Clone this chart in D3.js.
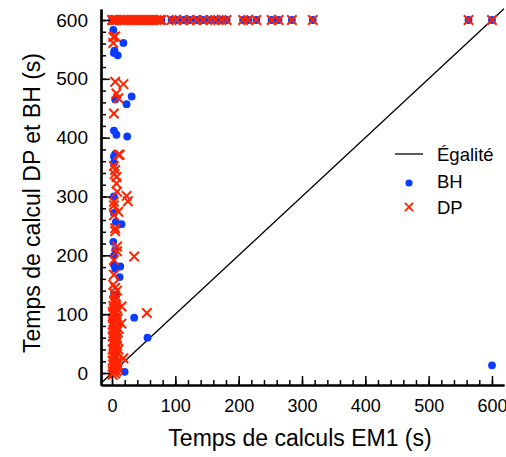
<!DOCTYPE html>
<html>
<head>
<meta charset="utf-8">
<script src="https://cdn.jsdelivr.net/npm/d3@7/dist/d3.min.js"></script>
<style>
  body { margin: 0; background: #fff; }
  text { font-family: "Liberation Sans", Arial, Helvetica, sans-serif; fill: #000; }
</style>
</head>
<body>
<div id="chart"></div>
<script>
// Temps de calcul : EM1 (x) contre DP et BH (y), en secondes
const majorTicks = [0, 100, 200, 300, 400, 500, 600];
const minorTicks = d3.range(0, 601, 20);

const bhPoints = [
  [0, 600], [2, 600], [5, 600], [8, 600], [12, 600], [16, 600], [20, 600], [25, 600], [30, 600],
  [35, 600], [40, 600], [45, 600], [50, 600], [55, 600], [60, 600], [65, 600], [70, 600], [75, 600],
  [78, 600], [94, 600], [102, 600], [113, 600], [123, 600], [134, 600], [144, 600], [155, 600],
  [163, 600], [173, 600], [181, 600], [207, 600], [215, 600], [228, 600], [252, 600], [263, 600],
  [284, 600], [317, 600], [563, 600], [600, 600],
  [2, 583], [18, 561], [3, 544], [9, 540], [4, 548], [31, 470], [5, 465], [23, 457], [3, 412],
  [7, 405], [24, 402], [3, 368], [5, 372], [3, 357], [3, 300], [3, 272], [6, 257], [15, 253],
  [2, 223], [5, 209], [3, 199], [3, 184], [13, 181], [5, 177], [12, 163], [3, 133], [7, 133],
  [4, 110], [2, 90], [5, 70], [3, 45], [2, 20], [35, 94], [56, 60], [20, 2], [3, 5], [600, 13]
];

const dpPoints = [
  [0, 600], [2, 600], [5, 600], [8, 600], [12, 600], [16, 600], [20, 600], [25, 600], [30, 600],
  [35, 600], [40, 600], [45, 600], [50, 600], [55, 600], [60, 600], [65, 600], [70, 600], [75, 600],
  [78, 600], [94, 600], [102, 600], [113, 600], [123, 600], [134, 600], [144, 600], [155, 600],
  [163, 600], [173, 600], [181, 600], [207, 600], [215, 600], [228, 600], [252, 600], [263, 600],
  [284, 600], [317, 600], [563, 600], [600, 600],
  [5, 572], [2, 571], [2, 561], [5, 495], [18, 491], [7, 475], [10, 467], [3, 441], [10, 371],
  [12, 371], [3, 352], [5, 345], [4, 338], [7, 333], [7, 322], [8, 308], [23, 301], [25, 292],
  [3, 291], [3, 285], [10, 274], [3, 268], [5, 246], [5, 241], [8, 215], [8, 207], [3, 192],
  [35, 198], [3, 167], [2, 150], [5, 145], [8, 140], [4, 135], [6, 127], [15, 113], [55, 102],
  [3, 122], [5, 118], [2, 114], [7, 110], [4, 107], [1, 104], [6, 101], [3, 98], [8, 96], [2, 93],
  [5, 90], [7, 87], [3, 85], [15, 84], [1, 82], [6, 79], [4, 76], [2, 73], [8, 71], [5, 68],
  [3, 65], [1, 62], [7, 60], [4, 57], [2, 54], [6, 51], [3, 48], [8, 46], [5, 43], [1, 40],
  [4, 37], [7, 35], [2, 32], [6, 29], [3, 27], [18, 25], [5, 24], [1, 21], [8, 19], [4, 17],
  [2, 14], [6, 12], [3, 9], [9, 8], [5, 6], [1, 4], [7, 3], [3, 1], [5, -1], [1, -3],
  [4, 124], [6, 116], [2, 100], [9, 92], [6, 64], [9, 55], [4, 30], [9, 14], [10, 40], [11, 75]
];

const blue = "#0a3cff";
const red = "#ff2400";

const svg = d3.select("#chart").append("svg")
  .attr("width", 506)
  .attr("height", 457);

const x = d3.scaleLinear().domain([-17.4, 619]).range([101, 504]);
const y = d3.scaleLinear().domain([-20.4, 618.7]).range([385, 9]);

// ligne d'égalité
svg.append("line")
  .attr("x1", x(-17.4)).attr("y1", y(-17.4))
  .attr("x2", x(619)).attr("y2", y(619))
  .attr("stroke", "#000")
  .attr("stroke-width", 1.3);

// BH
svg.append("g").selectAll("circle")
  .data(bhPoints)
  .enter()
  .append("circle")
  .attr("cx", d => x(d[0]))
  .attr("cy", d => y(d[1]))
  .attr("r", 3.9)
  .attr("fill", blue);

// DP
const cross = d3.symbol().type(d3.symbolX).size(60);
svg.append("g").selectAll("path")
  .data(dpPoints)
  .enter()
  .append("path")
  .attr("d", cross)
  .attr("transform", d => `translate(${x(d[0])},${y(d[1])})`)
  .attr("fill", "none")
  .attr("stroke", red)
  .attr("stroke-width", 2);

// axes
function styleAxis(g) {
  g.select(".domain").attr("stroke-width", 2.2);
  g.selectAll(".tick line").attr("stroke-width", 1.5);
  g.selectAll("text").attr("font-size", 19).style("font-family", "'Liberation Sans', Arial, sans-serif");
}

svg.append("g")
  .attr("transform", "translate(0,385)")
  .call(d3.axisBottom(x).tickValues(minorTicks).tickSize(-5).tickSizeOuter(0).tickFormat(""))
  .call(styleAxis);
svg.append("g")
  .attr("transform", "translate(0,385)")
  .call(d3.axisBottom(x).tickValues(majorTicks).tickSize(-9).tickSizeOuter(0).tickPadding(14))
  .call(styleAxis)
  .call(g => g.selectAll("text").attr("font-size", 18));

svg.append("g")
  .attr("transform", "translate(101,0)")
  .call(d3.axisLeft(y).tickValues(minorTicks).tickSize(-5).tickSizeOuter(0).tickFormat(""))
  .call(styleAxis);
svg.append("g")
  .attr("transform", "translate(101,0)")
  .call(d3.axisLeft(y).tickValues(majorTicks).tickSize(-9).tickSizeOuter(0).tickPadding(13))
  .call(styleAxis);

// axis titles
svg.append("text")
  .attr("x", 300)
  .attr("y", 446)
  .attr("text-anchor", "middle")
  .attr("font-size", 23)
  .text("Temps de calculs EM1 (s)");

svg.append("text")
  .attr("transform", "translate(40,203) rotate(-90)")
  .attr("text-anchor", "middle")
  .attr("font-size", 23)
  .text("Temps de calcul DP et BH (s)");

// legend
const legend = svg.append("g");
legend.append("line")
  .attr("x1", 395).attr("x2", 423)
  .attr("y1", 154).attr("y2", 154)
  .attr("stroke", "#000").attr("stroke-width", 1.3);
legend.append("circle")
  .attr("cx", 409).attr("cy", 183).attr("r", 3.6)
  .attr("fill", blue);
legend.append("path")
  .attr("d", d3.symbol().type(d3.symbolX).size(45))
  .attr("transform", "translate(409,207)")
  .attr("fill", "none").attr("stroke", red).attr("stroke-width", 1.8);
const legendLabels = ["Égalité", "BH", "DP"];
legend.selectAll("text.lab")
  .data(legendLabels)
  .enter()
  .append("text")
  .attr("class", "lab")
  .attr("x", 437)
  .attr("y", (d, i) => 161 + i * 26.5)
  .attr("font-size", 18.5)
  .text(d => d);
</script>
</body>
</html>
